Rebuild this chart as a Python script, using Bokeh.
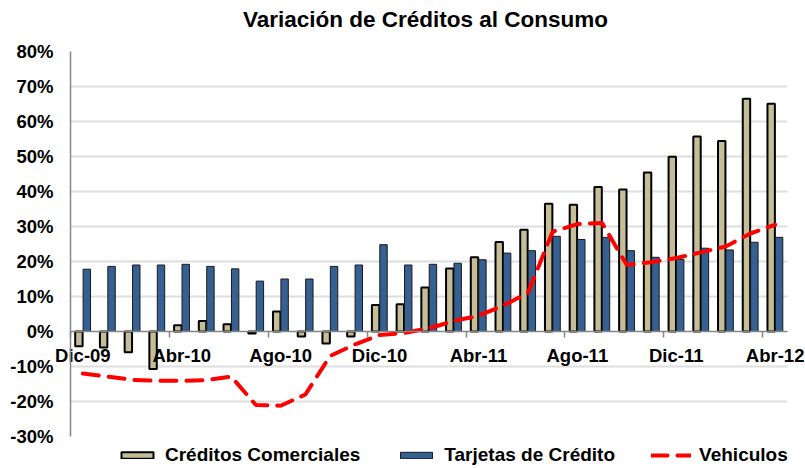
from bokeh.plotting import figure
from bokeh.models import (FixedTicker, Range1d, Legend, LegendItem, ColumnDataSource,
                          PrintfTickFormatter, LinearAxis, Label)
from bokeh.transform import dodge
from bokeh.embed import file_html
from bokeh.resources import INLINE

# ---- data ----
months = ["Dic-09", "Ene-10", "Feb-10", "Mar-10", "Abr-10", "May-10", "Jun-10", "Jul-10",
          "Ago-10", "Sep-10", "Oct-10", "Nov-10", "Dic-10", "Ene-11", "Feb-11", "Mar-11",
          "Abr-11", "May-11", "Jun-11", "Jul-11", "Ago-11", "Sep-11", "Oct-11", "Nov-11",
          "Dic-11", "Ene-12", "Feb-12", "Mar-12", "Abr-12"]
creditos_comerciales = [-4.2, -4.6, -5.9, -10.7, 1.8, 3.0, 2.1, -0.6, 5.7, -1.4, -3.4, -1.4,
                        7.6, 7.8, 12.6, 18.0, 21.2, 25.6, 29.1, 36.5, 36.2, 41.3, 40.6, 45.4,
                        49.9, 55.7, 54.4, 66.5, 65.1]
tarjetas_credito = [17.8, 18.6, 19.0, 19.0, 19.2, 18.6, 17.9, 14.4, 15.0, 15.0, 18.6, 19.0,
                    24.8, 19.0, 19.2, 19.5, 20.5, 22.4, 23.1, 27.2, 26.3, 26.9, 23.1, 21.2,
                    20.6, 23.8, 23.3, 25.5, 26.9]
vehiculos = [-12.0, -12.9, -13.8, -14.1, -14.1, -13.9, -12.9, -21.0, -21.2, -18.0, -7.0, -3.7,
             -1.0, -0.4, 0.9, 3.0, 4.5, 7.4, 11.0, 28.5, 30.7, 31.0, 19.0, 19.8,
             21.0, 22.6, 24.3, 28.0, 30.5]
x_tick_labels = months[::4]
y_ticks = [-30, -20, -10, 0, 10, 20, 30, 40, 50, 60, 70, 80]
grid_ticks = [-20, -10, 10, 20, 30, 40, 50, 60, 70]
title_text = "Variación de Créditos al Consumo"

# ---- layout constants (pixels) ----
W, H = 805, 468
FONT = "Liberation Sans"
LABEL_W = 53            # width kept for the y tick labels
PLOT_L, PLOT_R = 70, 787  # plot area (axes) horizontal extent
PLOT_T, PLOT_B = 51, 436  # plot area vertical extent
n = len(months)
cat_w = (PLOT_R - PLOT_L) / n
px_per_unit = (PLOT_B - PLOT_T) / (y_ticks[-1] - y_ticks[0])

x_lo = -0.5 - (PLOT_L - LABEL_W) / cat_w
x_hi = n - 0.5 + (W - PLOT_R) / cat_w
y_lo = y_ticks[0] - (H - PLOT_B) / px_per_unit
y_hi = y_ticks[-1] + PLOT_T / px_per_unit

idx = list(range(n))
src = ColumnDataSource(dict(x=idx, com=creditos_comerciales, tar=tarjetas_credito, veh=vehiculos))

p = figure(width=W, height=H, output_backend="svg", toolbar_location=None,
           x_range=Range1d(x_lo, x_hi), y_range=Range1d(y_lo, y_hi),
           min_border_left=LABEL_W, min_border_right=0, min_border_top=0, min_border_bottom=0)
p.outline_line_color = None
p.background_fill_color = "white"
p.border_fill_color = "white"
p.xgrid.visible = False
p.ygrid.visible = False

# gridlines limited to the plot area
p.segment(x0=[-0.5] * len(grid_ticks), x1=[n - 0.5] * len(grid_ticks),
          y0=grid_ticks, y1=grid_ticks, line_color="#DEDEDE", line_width=2)

r1 = p.vbar(x=dodge("x", -0.16, range=p.x_range), top="com", width=0.3, source=src,
            fill_color="#C4BD97", line_color="black", line_width=2)
r2 = p.vbar(x=dodge("x", 0.16, range=p.x_range), top="tar", width=0.3, source=src,
            fill_color="#376092", line_color="#1a1a1a", line_width=1)
r3 = p.line(x="x", y="veh", source=src, line_color="#FF0000", line_width=4,
            line_dash="16 10", line_cap="round")

# y axis labels (left panel)
p.yaxis.ticker = FixedTicker(ticks=y_ticks)
p.yaxis.formatter = PrintfTickFormatter(format="%d%%")
p.yaxis.major_tick_out = 0
p.yaxis.major_tick_in = 0
p.yaxis.minor_tick_out = 0
p.yaxis.minor_tick_in = 0
p.yaxis.major_label_standoff = 0
p.yaxis.axis_line_color = None
p.yaxis.major_label_text_font = FONT
p.yaxis.major_label_text_font_style = "bold"
p.yaxis.major_label_text_font_size = "18.5px"
p.yaxis.major_label_text_color = "black"

# y axis line at the left edge of the category area
yline = LinearAxis(fixed_location=-0.5, bounds=(y_ticks[0], y_ticks[-1]),
                   ticker=FixedTicker(ticks=[]), axis_line_color="#868686",
                   axis_line_width=1.5, major_tick_out=0, major_tick_in=0,
                   minor_tick_out=0, minor_tick_in=0)
p.add_layout(yline, "left")

# x axis at 0
tick_pos = idx[::4]
p.xaxis.ticker = FixedTicker(ticks=tick_pos, minor_ticks=[k - 0.5 for k in tick_pos])
p.xaxis.major_label_overrides = {k: lab for k, lab in zip(tick_pos, x_tick_labels)}
p.xaxis.fixed_location = 0
p.xaxis.bounds = (-0.5, n - 0.5)
p.xaxis.major_tick_out = 0
p.xaxis.major_tick_in = 0
p.xaxis.minor_tick_out = 6
p.xaxis.minor_tick_in = 0
p.xaxis.minor_tick_line_color = "#868686"
p.xaxis.minor_tick_line_width = 1.5
p.xaxis.axis_line_color = "#868686"
p.xaxis.axis_line_width = 1.5
p.xaxis.major_label_standoff = 7
p.xaxis.major_label_text_font = FONT
p.xaxis.major_label_text_font_style = "bold"
p.xaxis.major_label_text_font_size = "18.5px"
p.xaxis.major_label_text_color = "black"

# title
p.add_layout(Label(x=425 - LABEL_W, y=H - 19, x_units="screen", y_units="screen",
                   text=title_text, text_align="center", text_baseline="middle",
                   text_font=FONT, text_font_style="bold", text_font_size="22.5px",
                   text_color="black"))

legend = Legend(items=[LegendItem(label="Créditos Comerciales", renderers=[r1]),
                       LegendItem(label="Tarjetas de Crédito", renderers=[r2]),
                       LegendItem(label="Vehiculos", renderers=[r3])],
                orientation="horizontal", location=(117 - LABEL_W, 0),
                border_line_color=None, background_fill_alpha=0,
                glyph_width=40, glyph_height=8, label_standoff=8, spacing=36,
                padding=0, margin=0, label_height=26,
                label_text_font=FONT, label_text_font_style="bold",
                label_text_font_size="19px", label_text_color="black")
p.add_layout(legend, "center")

open("out.html", "w").write(file_html(p, INLINE))
